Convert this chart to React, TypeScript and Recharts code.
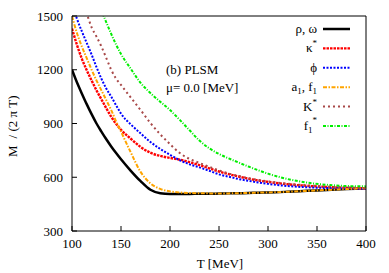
import React from 'react';
import { LineChart, Line, XAxis, YAxis, Customized } from 'recharts';

const temperatures = [100, 105, 110, 115, 120, 125, 130, 135, 140, 145, 150, 160, 170, 180, 190, 200, 210, 220, 230, 240, 250, 260, 270, 280, 290, 300, 320, 340, 360, 380, 400];

const rhoOmega = [1200, 1130, 1068, 1008, 952, 900, 855, 812, 772, 735, 700, 636, 578, 530, 511, 507, 507, 507, 508, 508, 509, 510, 511, 512, 514, 515, 519, 524, 529, 534, 539];
const kappaStar = [1430, 1340, 1262, 1198, 1140, 1085, 1035, 985, 938, 898, 865, 815, 769, 737, 719, 708, 698, 684, 668, 650, 632, 617, 604, 592, 582, 574, 561, 552, 546, 541, 538];
const phiMeson = [1570, 1485, 1415, 1350, 1285, 1215, 1150, 1095, 1050, 1002, 955, 895, 845, 797, 758, 725, 695, 672, 655, 636, 616, 603, 590, 580, 571, 563, 551, 544, 540, 537, 535];
const a1f1 = [1500, 1405, 1330, 1265, 1200, 1140, 1085, 1030, 975, 912, 855, 738, 630, 566, 535, 521, 515, 512, 511, 510, 510, 510, 511, 512, 514, 515, 519, 524, 529, 534, 539];
const kStar = [1760, 1680, 1600, 1515, 1437, 1385, 1330, 1265, 1200, 1150, 1115, 1045, 975, 903, 840, 785, 735, 702, 680, 658, 638, 621, 607, 595, 585, 577, 564, 555, 548, 543, 539];
const f1Star = [1950, 1880, 1810, 1740, 1670, 1600, 1530, 1465, 1400, 1340, 1288, 1205, 1127, 1070, 1022, 975, 920, 862, 805, 762, 730, 705, 682, 660, 639, 620, 590, 570, 558, 551, 549];

const xTicks = [100, 150, 200, 250, 300, 350, 400];
const yTicks = [300, 600, 900, 1200, 1500];

const data = temperatures.map((t, i) => ({
  t,
  rho: rhoOmega[i],
  kappa: kappaStar[i],
  phi: phiMeson[i],
  a1: a1f1[i],
  kstar: kStar[i],
  f1s: f1Star[i],
}));

const FONT = '"Liberation Serif", "DejaVu Serif", serif';

type SeriesDef = { key: string; color: string; width: number; dash?: string; label: React.ReactNode };

const series: SeriesDef[] = [
  { key: 'rho', color: '#000000', width: 2.5, label: <tspan>ρ, ω</tspan> },
  { key: 'kappa', color: '#ff0000', width: 2.4, dash: '2.5 1', label: <><tspan>κ</tspan><tspan dy={-6} fontSize={9}>*</tspan></> },
  { key: 'phi', color: '#0000ff', width: 2, dash: '2 1.5', label: <tspan>ϕ</tspan> },
  { key: 'a1', color: '#ffa500', width: 2, dash: '4 1.5 1.5 1.5', label: <><tspan>a</tspan><tspan dy={3} fontSize={9}>1</tspan><tspan dy={-3}>, f</tspan><tspan dy={3} fontSize={9}>1</tspan></> },
  { key: 'kstar', color: '#a84848', width: 2, dash: '2 3', label: <><tspan>K</tspan><tspan dy={-6} fontSize={9}>*</tspan></> },
  { key: 'f1s', color: '#00ee00', width: 2, dash: '3 1.5 1 1.5', label: <><tspan>f</tspan><tspan dy={3} fontSize={9}>1</tspan><tspan dy={-10} fontSize={9}>*</tspan></> },
];

const Decorations = () => (
  <g fontFamily={FONT} fill="#000">
    <text x={166} y={74} fontSize={13} fontFamily={FONT}>(b) PLSM</text>
    <text x={166} y={92} fontSize={13} fontFamily={FONT}>μ= 0.0 [MeV]</text>
    <text x={220} y={268} fontSize={13} textAnchor="middle" fontFamily={FONT}>T [MeV]</text>
    <text transform="translate(17,157) rotate(-90)" fontSize={13} fontFamily={FONT}>
      <tspan>M</tspan>
      <tspan dx={7}>/ (2 π T)</tspan>
    </text>
    {series.map((s, i) => {
      const cy = 29 + i * 19.4;
      return (
        <g key={s.key}>
          <text x={317} y={cy + 4} fontSize={13} textAnchor="end" fontFamily={FONT}>{s.label}</text>
          <line x1={323} x2={350} y1={cy} y2={cy} stroke={s.color} strokeWidth={s.width} strokeDasharray={s.dash} />
        </g>
      );
    })}
  </g>
);

const blankTick = () => <g />;

const XTick = (props: any) => (
  <text x={props.x} y={props.y} dy="0.71em" textAnchor="middle" fontSize={13} fontFamily={FONT} fill="#000">
    {props.payload.value}
  </text>
);

const YTick = (props: any) => (
  <text x={props.x} y={props.y} dy="0.355em" textAnchor="end" fontSize={13} fontFamily={FONT} fill="#000">
    {props.payload.value}
  </text>
);

export default function App() {
  return (
    <div style={{ position: 'absolute', left: 0, top: 0, width: 389, height: 273, background: '#fff', fontFamily: FONT }}>
      <LineChart width={389} height={273} data={data} margin={{ top: 6, right: 13, bottom: 12, left: 20 }} style={{ fontFamily: FONT }}>
        <XAxis
          dataKey="t"
          type="number"
          domain={[100, 400]}
          ticks={xTicks}
          allowDataOverflow
          height={30}
          tickSize={-5}
          tickMargin={13}
          stroke="#000"
          tick={XTick}
        />
        <XAxis
          xAxisId="top"
          orientation="top"
          type="number"
          domain={[100, 400]}
          ticks={xTicks}
          height={10}
          tickSize={-5}
          stroke="#000"
          tick={blankTick}
        />
        <YAxis
          type="number"
          domain={[300, 1500]}
          ticks={yTicks}
          allowDataOverflow
          width={52}
          tickSize={-5}
          tickMargin={14}
          stroke="#000"
          tick={YTick}
        />
        <YAxis
          yAxisId="right"
          orientation="right"
          type="number"
          domain={[300, 1500]}
          ticks={yTicks}
          width={10}
          tickSize={-5}
          stroke="#000"
          tick={blankTick}
        />
        {series.map((s) => (
          <Line
            key={s.key}
            dataKey={s.key}
            type="monotone"
            stroke={s.color}
            strokeWidth={s.width}
            strokeDasharray={s.dash}
            dot={false}
            isAnimationActive={false}
          />
        ))}
        <Customized component={Decorations} />
      </LineChart>
    </div>
  );
}
